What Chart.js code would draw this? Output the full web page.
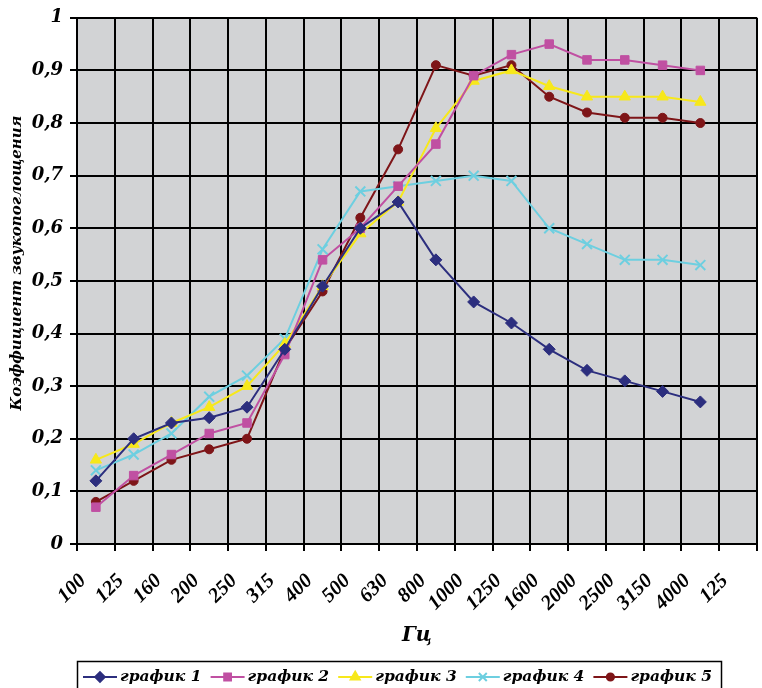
<!DOCTYPE html>
<html>
<head>
<meta charset="utf-8">
<script src="https://cdn.jsdelivr.net/npm/chart.js@4/dist/chart.umd.min.js"></script>
<style>
  html, body { margin: 0; padding: 0; background: #ffffff; overflow: hidden; }
  #wrap { width: 766px; height: 688px; }
</style>
</head>
<body>
<div id="wrap"><canvas id="chart" width="766" height="688"></canvas></div>
<script>
// Third-octave band centre frequencies (the last column is an empty band)
const frequencies = ['100', '125', '160', '200', '250', '315', '400', '500', '630',
                     '800', '1000', '1250', '1600', '2000', '2500', '3150', '4000', '125'];

// Sound absorption coefficient for each sample
const graph1 = [0.12, 0.20, 0.23, 0.24, 0.26, 0.37, 0.49, 0.60, 0.65, 0.54, 0.46, 0.42, 0.37, 0.33, 0.31, 0.29, 0.27];
const graph2 = [0.07, 0.13, 0.17, 0.21, 0.23, 0.36, 0.54, 0.60, 0.68, 0.76, 0.89, 0.93, 0.95, 0.92, 0.92, 0.91, 0.90];
const graph3 = [0.16, 0.19, 0.23, 0.26, 0.30, 0.38, 0.49, 0.59, 0.65, 0.79, 0.88, 0.90, 0.87, 0.85, 0.85, 0.85, 0.84];
const graph4 = [0.14, 0.17, 0.21, 0.28, 0.32, 0.39, 0.56, 0.67, 0.68, 0.69, 0.70, 0.69, 0.60, 0.57, 0.54, 0.54, 0.53];
const graph5 = [0.08, 0.12, 0.16, 0.18, 0.20, 0.37, 0.48, 0.62, 0.75, 0.91, 0.89, 0.91, 0.85, 0.82, 0.81, 0.81, 0.80];

const seriesNames = ['график 1', 'график 2', 'график 3', 'график 4', 'график 5'];
const seriesData = [graph1, graph2, graph3, graph4, graph5];
const seriesColors = ['#2c2e7e', '#c050a2', '#f7e81a', '#6dcfe0', '#7e1518'];
const seriesMarkers = ['rectRot', 'rect', 'triangle', 'crossRot', 'circle'];
const markerRadii = [6, 6, 6.5, 7, 4.5];

const yTitle = 'Коэффициент звукопоглощения';
const xTitle = 'Гц';

const SERIF = '"DejaVu Serif", "Liberation Serif", serif';
const NARROW_SERIF = '"Liberation Serif", "DejaVu Serif", serif';
const PLOT_BG = '#d2d3d5';

// Grey fill behind the plotting area
const plotBackground = {
  id: 'plotBackground',
  beforeDraw(chart) {
    const { ctx, chartArea: a } = chart;
    ctx.save();
    ctx.fillStyle = PLOT_BG;
    ctx.fillRect(a.left, a.top, a.right - a.left, a.bottom - a.top);
    ctx.restore();
  }
};

// Vertical value-axis caption, set slightly above the plot's middle
const valueCaption = {
  id: 'valueCaption',
  afterDraw(chart) {
    const ctx = chart.ctx;
    ctx.save();
    ctx.translate(17, 263);
    ctx.rotate(-Math.PI / 2);
    ctx.fillStyle = '#000';
    ctx.font = 'italic bold 15px ' + SERIF;
    ctx.textAlign = 'center';
    ctx.textBaseline = 'middle';
    ctx.fillText(yTitle, 0, 0);
    ctx.restore();
  }
};

// Boxed legend row with line + marker samples
const boxedLegend = {
  id: 'boxedLegend',
  afterDraw(chart) {
    const ctx = chart.ctx;
    const boxLeft = 77, boxTop = 661, boxRight = 721;
    const rowY = 677;
    const firstX = 83, step = 127.6, lineLen = 34;
    ctx.save();
    ctx.strokeStyle = '#000';
    ctx.lineWidth = 1.5;
    ctx.strokeRect(boxLeft + 0.5, boxTop + 0.5, boxRight - boxLeft, 60);
    chart.data.datasets.forEach((ds, i) => {
      const x = firstX + i * step;
      ctx.strokeStyle = ds.borderColor;
      ctx.lineWidth = 2;
      ctx.beginPath();
      ctx.moveTo(x, rowY);
      ctx.lineTo(x + lineLen, rowY);
      ctx.stroke();
      ctx.fillStyle = ds.backgroundColor;
      ctx.strokeStyle = ds.borderColor;
      Chart.helpers.drawPoint(ctx, {
        pointStyle: ds.pointStyle,
        radius: ds.pointRadius * 0.8,
        rotation: 0,
        borderWidth: ds.pointStyle === 'crossRot' ? 2 : 1
      }, x + lineLen / 2, rowY);
      ctx.fillStyle = '#000';
      ctx.font = 'italic bold 15.5px ' + SERIF;
      ctx.textAlign = 'left';
      ctx.textBaseline = 'middle';
      ctx.fillText(ds.label, x + lineLen + 3, rowY);
    });
    ctx.restore();
  }
};

const datasets = seriesData.map((values, i) => ({
  label: seriesNames[i],
  data: values,
  borderColor: seriesColors[i],
  backgroundColor: seriesColors[i],
  borderWidth: 2,
  pointStyle: seriesMarkers[i],
  pointRadius: markerRadii[i],
  pointBorderWidth: seriesMarkers[i] === 'crossRot' ? 2 : 1,
  pointHoverRadius: markerRadii[i],
  tension: 0,
  fill: false
}));

new Chart(document.getElementById('chart'), {
  type: 'line',
  data: { labels: frequencies, datasets },
  plugins: [plotBackground, valueCaption, boxedLegend],
  options: {
    responsive: false,
    animation: false,
    layout: { padding: { top: 16, right: 1, bottom: 40, left: 0 } },
    plugins: {
      legend: { display: false },
      tooltip: { enabled: false }
    },
    scales: {
      x: {
        offset: true,
        afterFit(scale) {
          scale.height = 104;
          // rotated labels stay under the plot, so no side gutters are needed
          scale.paddingLeft = 0;
          scale.paddingRight = 0;
        },
        grid: {
          offset: true,
          color: '#000',
          lineWidth: 2,
          drawTicks: true,
          tickLength: 7,
          tickColor: '#000',
          tickWidth: 2
        },
        border: { display: true, color: '#000', width: 2 },
        ticks: {
          autoSkip: false,
          minRotation: 45,
          maxRotation: 45,
          labelOffset: -13,
          padding: 18,
          color: '#000',
          font: { family: NARROW_SERIF, size: 20.5, style: 'italic', weight: 'bold' }
        },
        title: {
          display: true,
          text: xTitle,
          color: '#000',
          font: { family: SERIF, size: 20, style: 'italic', weight: 'bold' },
          padding: { top: 0, bottom: 0 }
        }
      },
      y: {
        min: 0,
        max: 1,
        afterFit(scale) { scale.width = 77; },
        grid: {
          color: '#000',
          lineWidth: 2,
          drawTicks: true,
          tickLength: 7,
          tickColor: '#000',
          tickWidth: 2
        },
        border: { display: true, color: '#000', width: 2 },
        ticks: {
          stepSize: 0.1,
          padding: 7,
          color: '#000',
          font: { family: SERIF, size: 18, style: 'italic', weight: 'bold' },
          callback: (v) => String(Math.round(v * 10) / 10).replace('.', ',')
        },
        title: { display: false }
      }
    }
  }
});
</script>
</body>
</html>
